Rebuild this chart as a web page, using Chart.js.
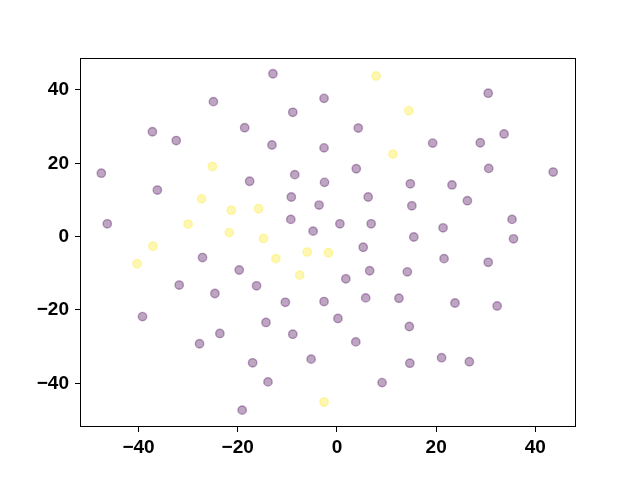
<!DOCTYPE html>
<html>
<head>
<meta charset="utf-8">
<script src="https://cdn.jsdelivr.net/npm/chart.js@4/dist/chart.umd.min.js"></script>
<style>
  body { margin: 0; background: #fff; }
  canvas { display: block; }
</style>
</head>
<body>
<canvas id="scatterChart" width="640" height="480"></canvas>
<script>
// class 0 (purple) points
var purpleX = [-12.9, -24.9, -2.6, -8.9, -37.2, -32.4, -18.6, -13.1, -2.6, -47.5,
  -36.2, -17.6, -8.5, -2.5, -9.2, -3.6, -9.3, -4.8, -46.3, 30.5,
  4.3, 33.7, 19.3, 28.9, 3.9, 30.6, 43.6, 14.8, 23.2, 6.3,
  26.3, 15.1, 0.6, 6.9, 35.3, 21.4, 15.5, 35.6, 5.3, 21.6,
  30.5, 1.8, 6.6, 14.2, -2.6, 5.8, 12.5, 23.8, 32.3, 0.2,
  14.6, 3.8, 14.7, 21.1, 26.7, 9.1, -27.1, -19.7, -31.8, -16.2,
  -24.6, -10.4, -39.2, -14.3, -23.6, -8.9, -27.7, -5.2, -17.0, -13.9,
  -19.1];
var purpleY = [44.4, 36.8, 37.7, 33.9, 28.6, 26.2, 29.7, 25.0, 24.2, 17.3,
  12.7, 15.1, 16.9, 14.8, 10.8, 8.6, 4.7, 1.5, 3.5, 39.1,
  29.6, 28.0, 25.5, 25.6, 18.5, 18.6, 17.6, 14.4, 14.1, 10.8,
  9.8, 8.4, 3.5, 3.5, 4.7, 2.4, -0.1, -0.6, -2.9, -6.0,
  -7.0, -11.5, -9.3, -9.6, -17.7, -16.7, -16.8, -18.1, -18.9, -22.3,
  -24.5, -28.7, -34.5, -33.0, -34.1, -39.8, -5.7, -9.1, -13.2, -13.4,
  -15.5, -17.9, -21.8, -23.4, -26.4, -26.6, -29.2, -33.4, -34.4, -39.6,
  -47.3];

// class 1 (yellow) points
var yellowX = [-25.1, -27.3, -21.3, -15.8, -30.0, -21.7, -14.8, -37.1, 7.9, 14.5,
  11.3, -1.7, -40.3, -12.3, -6.0, -7.5, -2.6];
var yellowY = [19.1, 10.3, 7.2, 7.6, 3.4, 1.1, -0.5, -2.6, 43.8, 34.3,
  22.5, -4.4, -7.4, -6.0, -4.2, -10.5, -45.1];

var tickVals = [-40, -20, 0, 20, 40];

function toPoints(xs, ys) {
  return xs.map(function (x, i) { return { x: x, y: ys[i] }; });
}

var frame = {
  id: 'frame',
  afterDraw: function (chart) {
    var a = chart.chartArea, c = chart.ctx;
    c.save();
    c.strokeStyle = '#000';
    c.lineWidth = 1;
    c.strokeRect(a.left + 0.5, a.top + 0.5, a.right - a.left - 1, a.bottom - a.top - 1);
    c.restore();
  }
};

var tickFont = { family: '"Liberation Sans", Arial, sans-serif', size: 19, weight: 'bold' };

function axis(min, max, pos) {
  return {
    type: 'linear',
    position: pos,
    min: min,
    max: max,
    afterBuildTicks: function (s) {
      s.ticks = tickVals.map(function (v) { return { value: v }; });
    },
    afterFit: function (s) {
      if (pos === 'left') s.width = 80;
      else s.height = 53;
    },
    grid: { drawOnChartArea: false, drawTicks: true, tickLength: 5, color: '#000', tickWidth: 1 },
    border: { display: false },
    ticks: {
      color: '#000',
      font: tickFont,
      padding: pos === 'left' ? 6 : 4,
      maxRotation: 0,
      callback: function (v) { return String(v).replace('-', '\u2212'); }
    }
  };
}

new Chart(document.getElementById('scatterChart'), {
  type: 'scatter',
  data: {
    datasets: [
      {
        data: toPoints(purpleX, purpleY),
        backgroundColor: 'rgba(68,1,84,0.35)',
        borderColor: 'rgba(68,1,84,0.35)',
        borderWidth: 1.4,
        pointRadius: 4.2
      },
      {
        data: toPoints(yellowX, yellowY),
        backgroundColor: 'rgba(253,231,37,0.35)',
        borderColor: 'rgba(253,231,37,0.35)',
        borderWidth: 1.4,
        pointRadius: 4.2
      }
    ]
  },
  options: {
    responsive: false,
    animation: false,
    layout: { padding: { top: 58, right: 64, left: 0, bottom: 0 } },
    plugins: { legend: { display: false }, tooltip: { enabled: false } },
    scales: {
      x: axis(-51.8, 48.2, 'bottom'),
      y: axis(-51.9, 48.7, 'left')
    }
  },
  plugins: [frame]
});
</script>
</body>
</html>
